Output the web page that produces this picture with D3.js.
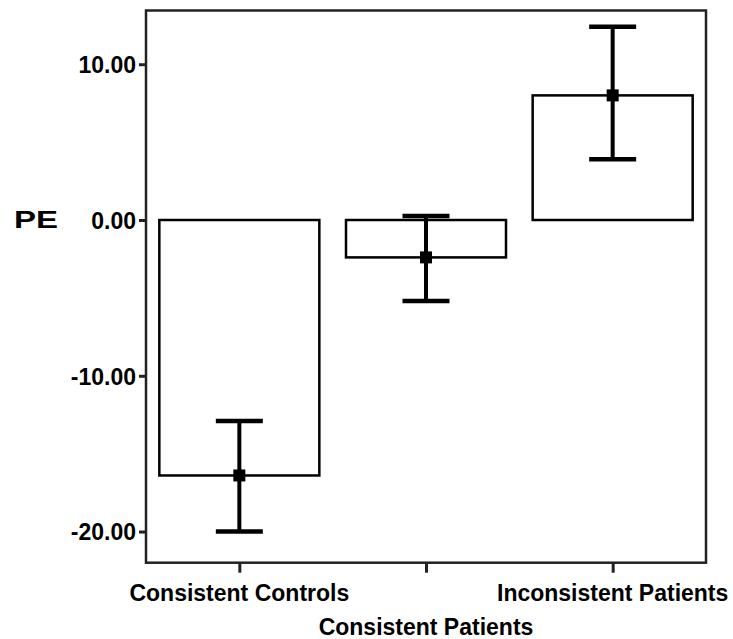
<!DOCTYPE html>
<html>
<head>
<meta charset="utf-8">
<script src="https://cdn.jsdelivr.net/npm/d3@7"></script>
<style>
  body { margin: 0; background: #fff; }
  text { font-family: "Liberation Sans", Arial, sans-serif; font-weight: bold; fill: #000; }
</style>
</head>
<body>
<div class="svg-container"></div>
<script>
// values
var categories = ["Consistent Controls", "Consistent Patients", "Inconsistent Patients"];
var means = [-16.4, -2.4, 8.0];
var lower = [-20.0, -5.2, 3.9];
var upper = [-12.9, 0.25, 12.4];
var yTicks = [-20, -10, 0, 10];

var svgWidth = 733, svgHeight = 639;
var plotLeft = 146, plotRight = 706, plotTop = 10.5, plotBottom = 562.7;
var barWidth = 160, capWidth = 47;

var svg = d3.select(".svg-container").append("svg")
  .attr("width", svgWidth)
  .attr("height", svgHeight);

var y = d3.scaleLinear().domain([-22, 13.45]).range([plotBottom, plotTop]);
var x = d3.scalePoint().domain(categories).range([plotLeft, plotRight]).padding(0.5);

var rows = categories.map(function(c, i){
  return {cat: c, mean: means[i], lo: lower[i], hi: upper[i], i: i};
});

// bars (outlined, from zero)
svg.append("g").selectAll("rect").data(rows).enter().append("rect")
  .attr("x", function(d){ return x(d.cat) - barWidth/2; })
  .attr("y", function(d){ return y(Math.max(0, d.mean)); })
  .attr("width", barWidth)
  .attr("height", function(d){ return Math.abs(y(d.mean) - y(0)); })
  .attr("fill", "none")
  .attr("stroke", "#000")
  .attr("stroke-width", 2.5);

// error bars
var eb = svg.append("g").selectAll("g").data(rows).enter().append("g");
eb.append("line")
  .attr("x1", function(d){ return x(d.cat); })
  .attr("x2", function(d){ return x(d.cat); })
  .attr("y1", function(d){ return y(d.lo); })
  .attr("y2", function(d){ return y(d.hi); })
  .attr("stroke", "#000").attr("stroke-width", 4);
eb.selectAll(".cap").data(function(d){ return [d.lo, d.hi].map(function(v){ return {cat: d.cat, v: v}; }); })
  .enter().append("line").attr("class", "cap")
  .attr("x1", function(d){ return x(d.cat) - capWidth/2; })
  .attr("x2", function(d){ return x(d.cat) + capWidth/2; })
  .attr("y1", function(d){ return y(d.v); })
  .attr("y2", function(d){ return y(d.v); })
  .attr("stroke", "#000").attr("stroke-width", 4.5);
eb.append("rect")
  .attr("x", function(d){ return x(d.cat) - 6; })
  .attr("y", function(d){ return y(d.mean) - 6; })
  .attr("width", 12).attr("height", 12)
  .attr("fill", "#000");

// frame
svg.append("rect")
  .attr("x", plotLeft).attr("y", plotTop)
  .attr("width", plotRight - plotLeft).attr("height", plotBottom - plotTop)
  .attr("fill", "none").attr("stroke", "#222").attr("stroke-width", 2.5);

// y axis (plain hyphen for minus, like the original)
var yAxis = svg.append("g").attr("transform", "translate(" + plotLeft + ",0)")
  .call(d3.axisLeft(y).tickValues(yTicks).tickSize(7).tickPadding(3)
    .tickFormat(function(d){ return d.toFixed(2); }));
yAxis.select(".domain").remove();
yAxis.selectAll(".tick line").attr("stroke", "#222").attr("stroke-width", 3);
yAxis.selectAll(".tick text").attr("font-size", 23).attr("font-family", null).attr("dy", "0.36em").attr("fill", "#000");

// x axis
var xAxis = svg.append("g").attr("transform", "translate(0," + plotBottom + ")")
  .call(d3.axisBottom(x).tickSize(10).tickFormat(""));
xAxis.select(".domain").remove();
xAxis.selectAll(".tick line").attr("stroke", "#222").attr("stroke-width", 3);

svg.append("g").selectAll("text").data(categories).enter().append("text")
  .attr("x", function(d){ return x(d); })
  .attr("y", function(d, i){ return i % 2 ? 635 : 601; })
  .attr("text-anchor", "middle")
  .attr("font-size", 23)
  .text(function(d){ return d; });

// y title
svg.append("text")
  .attr("x", 14).attr("y", y(0) + 8)
  .attr("font-size", 23)
  .attr("textLength", 44)
  .attr("lengthAdjust", "spacingAndGlyphs")
  .text("PE");
</script>
</body>
</html>
